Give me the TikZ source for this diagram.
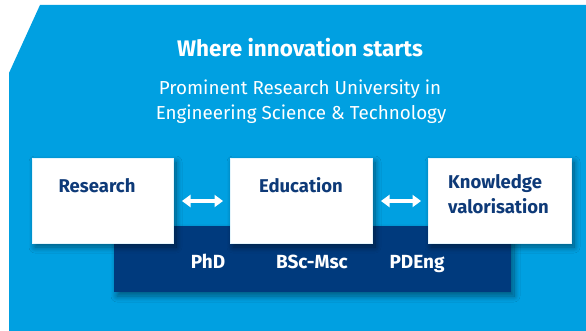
\documentclass[tikz,border=0pt]{standalone}
\usepackage{fontspec}
\setmainfont{Fira Sans}
\usetikzlibrary{shadows.blur,arrows.meta}
\definecolor{tueblue}{HTML}{00A0E1}
\definecolor{tuenavy}{HTML}{003A7D}
\definecolor{tuetext}{HTML}{0E3A78}
\tikzset{
  softshadow/.style={blur shadow={shadow xshift=3pt, shadow yshift=-4pt, shadow blur steps=10, shadow blur radius=6pt, shadow opacity=45}},
  card/.style={fill=white, draw=white!90!tueblue, line width=0.6pt, softshadow},
  cardtext/.style={text=tuetext, font=\bfseries\fontsize{18.5}{22}\selectfont, inner sep=0pt},
  bartext/.style={text=white, font=\bfseries\fontsize{19}{22}\selectfont, inner sep=0pt},
  subtext/.style={text=white, font=\fontsize{18.8}{22}\selectfont, inner sep=0pt, anchor=base},
  dbl/.style={white, line width=3.2pt, {Triangle[width=12pt,length=8.5pt]}-{Triangle[width=12pt,length=8.5pt]}},
}
\begin{document}
\begin{tikzpicture}[x=1pt,y=-1pt]
\useasboundingbox (0,0) rectangle (586,331);
\fill[white] (0,0) rectangle (586,331);
\fill[tueblue] (40,5) -- (586,5) -- (586,331) -- (9,331) -- (9,73) -- cycle;
% title
\node[text=white, font=\bfseries\fontsize{22.5}{26}\selectfont, anchor=base, inner sep=0pt] (title) at (300,57) {Where innovation starts};
\node[subtext] (sub1) at (300,95) {Prominent Research University in};
\node[subtext] (sub2) at (301,120) {Engineering Science \& Technology};
% dark bar
\fill[tuenavy, softshadow] (114,226) rectangle (511,292);
% cards
\path[card] (32,158) rectangle (173,243);
\path[card] (230,158) rectangle (372,243);
\path[card] (428,158) rectangle (571,243);
\node[cardtext, anchor=base] (research) at (97,193) {Research};
\node[cardtext, anchor=base] (education) at (301,193) {Education};
\node[cardtext, anchor=base west] (knowledge) at (448,189) {Knowledge};
\node[cardtext, anchor=base west] (valor) at (448,213) {valorisation};
% arrows
\coordinate (a1l) at (182,201);
\coordinate (a1r) at (223,201);
\coordinate (a2l) at (381,201);
\coordinate (a2r) at (421,201);
\draw[dbl] (a1l) -- (a1r);
\draw[dbl] (a2l) -- (a2r);
% bar labels
\node[bartext, anchor=base] (phd) at (208,268) {PhD};
\node[bartext, anchor=base] (bsc) at (312,268) {BSc-Msc};
\node[bartext, anchor=base] (pdeng) at (417,268) {PDEng};
\end{tikzpicture}
\end{document}
